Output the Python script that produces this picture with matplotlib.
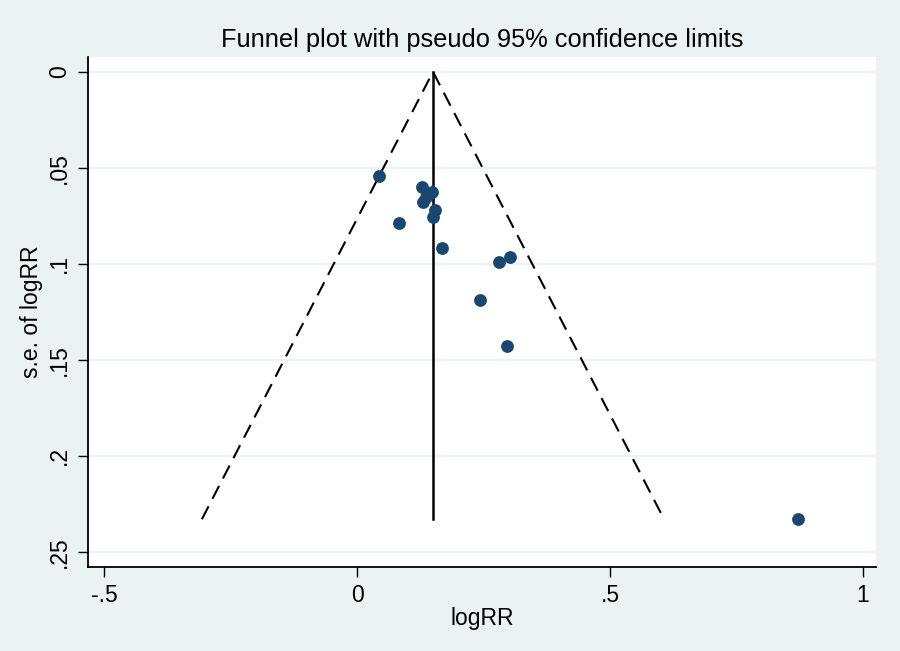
import matplotlib.pyplot as plt
import numpy as np

plt.rcParams['font.family'] = ['Liberation Sans', 'DejaVu Sans']

# study estimates
log_rr = [0.043, 0.128, 0.148, 0.136, 0.130, 0.154, 0.150, 0.083,
          0.167, 0.280, 0.302, 0.243, 0.297, 0.872]
se_log_rr = [0.0545, 0.0599, 0.0625, 0.0651, 0.0680, 0.0720, 0.0755, 0.0790,
             0.0920, 0.0989, 0.0967, 0.1189, 0.1429, 0.2331]
pooled = 0.150
x_ticks = [-0.5, 0, 0.5, 1]
x_labels = ['-.5', '0', '.5', '1']
y_ticks = [0, 0.05, 0.1, 0.15, 0.2, 0.25]
y_labels = ['0', '.05', '.1', '.15', '.2', '.25']

bg = '#EAF2F3'
navy = '#1a476f'

fig = plt.figure(figsize=(9, 6.51), dpi=100, facecolor=bg)
ax = fig.add_axes([0.0978, 0.129, 0.8756, 0.7834])
ax.set_facecolor('white')

se_max = max(se_log_rr)
ax.plot([pooled - 1.96 * se_max, pooled, pooled + 1.96 * se_max],
        [se_max, 0, se_max], color='black', lw=1.5, ls=(0, (7, 4)), zorder=2)
ax.plot([pooled, pooled], [0, se_max], color='black', lw=1.8, zorder=2)
ax.scatter(log_rr, se_log_rr, s=85, color=navy, zorder=3, linewidths=0)

ax.set_xlim(-0.532, 1.026)
ax.set_ylim(0.258, -0.0077)
ax.set_xticks(x_ticks, x_labels, fontsize=16.5)
ax.set_yticks(y_ticks, y_labels, fontsize=16.5, rotation=90, va='center')
ax.tick_params(direction='out', length=7, width=1, pad=5)
for y in y_ticks:
    ax.axhline(y, color=bg, lw=1.5, zorder=1)

for s in ['top', 'right']:
    ax.spines[s].set_visible(False)
for s in ['left', 'bottom']:
    ax.spines[s].set_linewidth(1.3)

ax.set_xlabel('logRR', fontsize=16.5, labelpad=0)
ax.set_ylabel('s.e. of logRR', fontsize=16.5, labelpad=4)
ax.set_title('Funnel plot with pseudo 95% confidence limits', fontsize=18.3, pad=7)

fig.savefig('out.png', dpi=100, facecolor=bg)
